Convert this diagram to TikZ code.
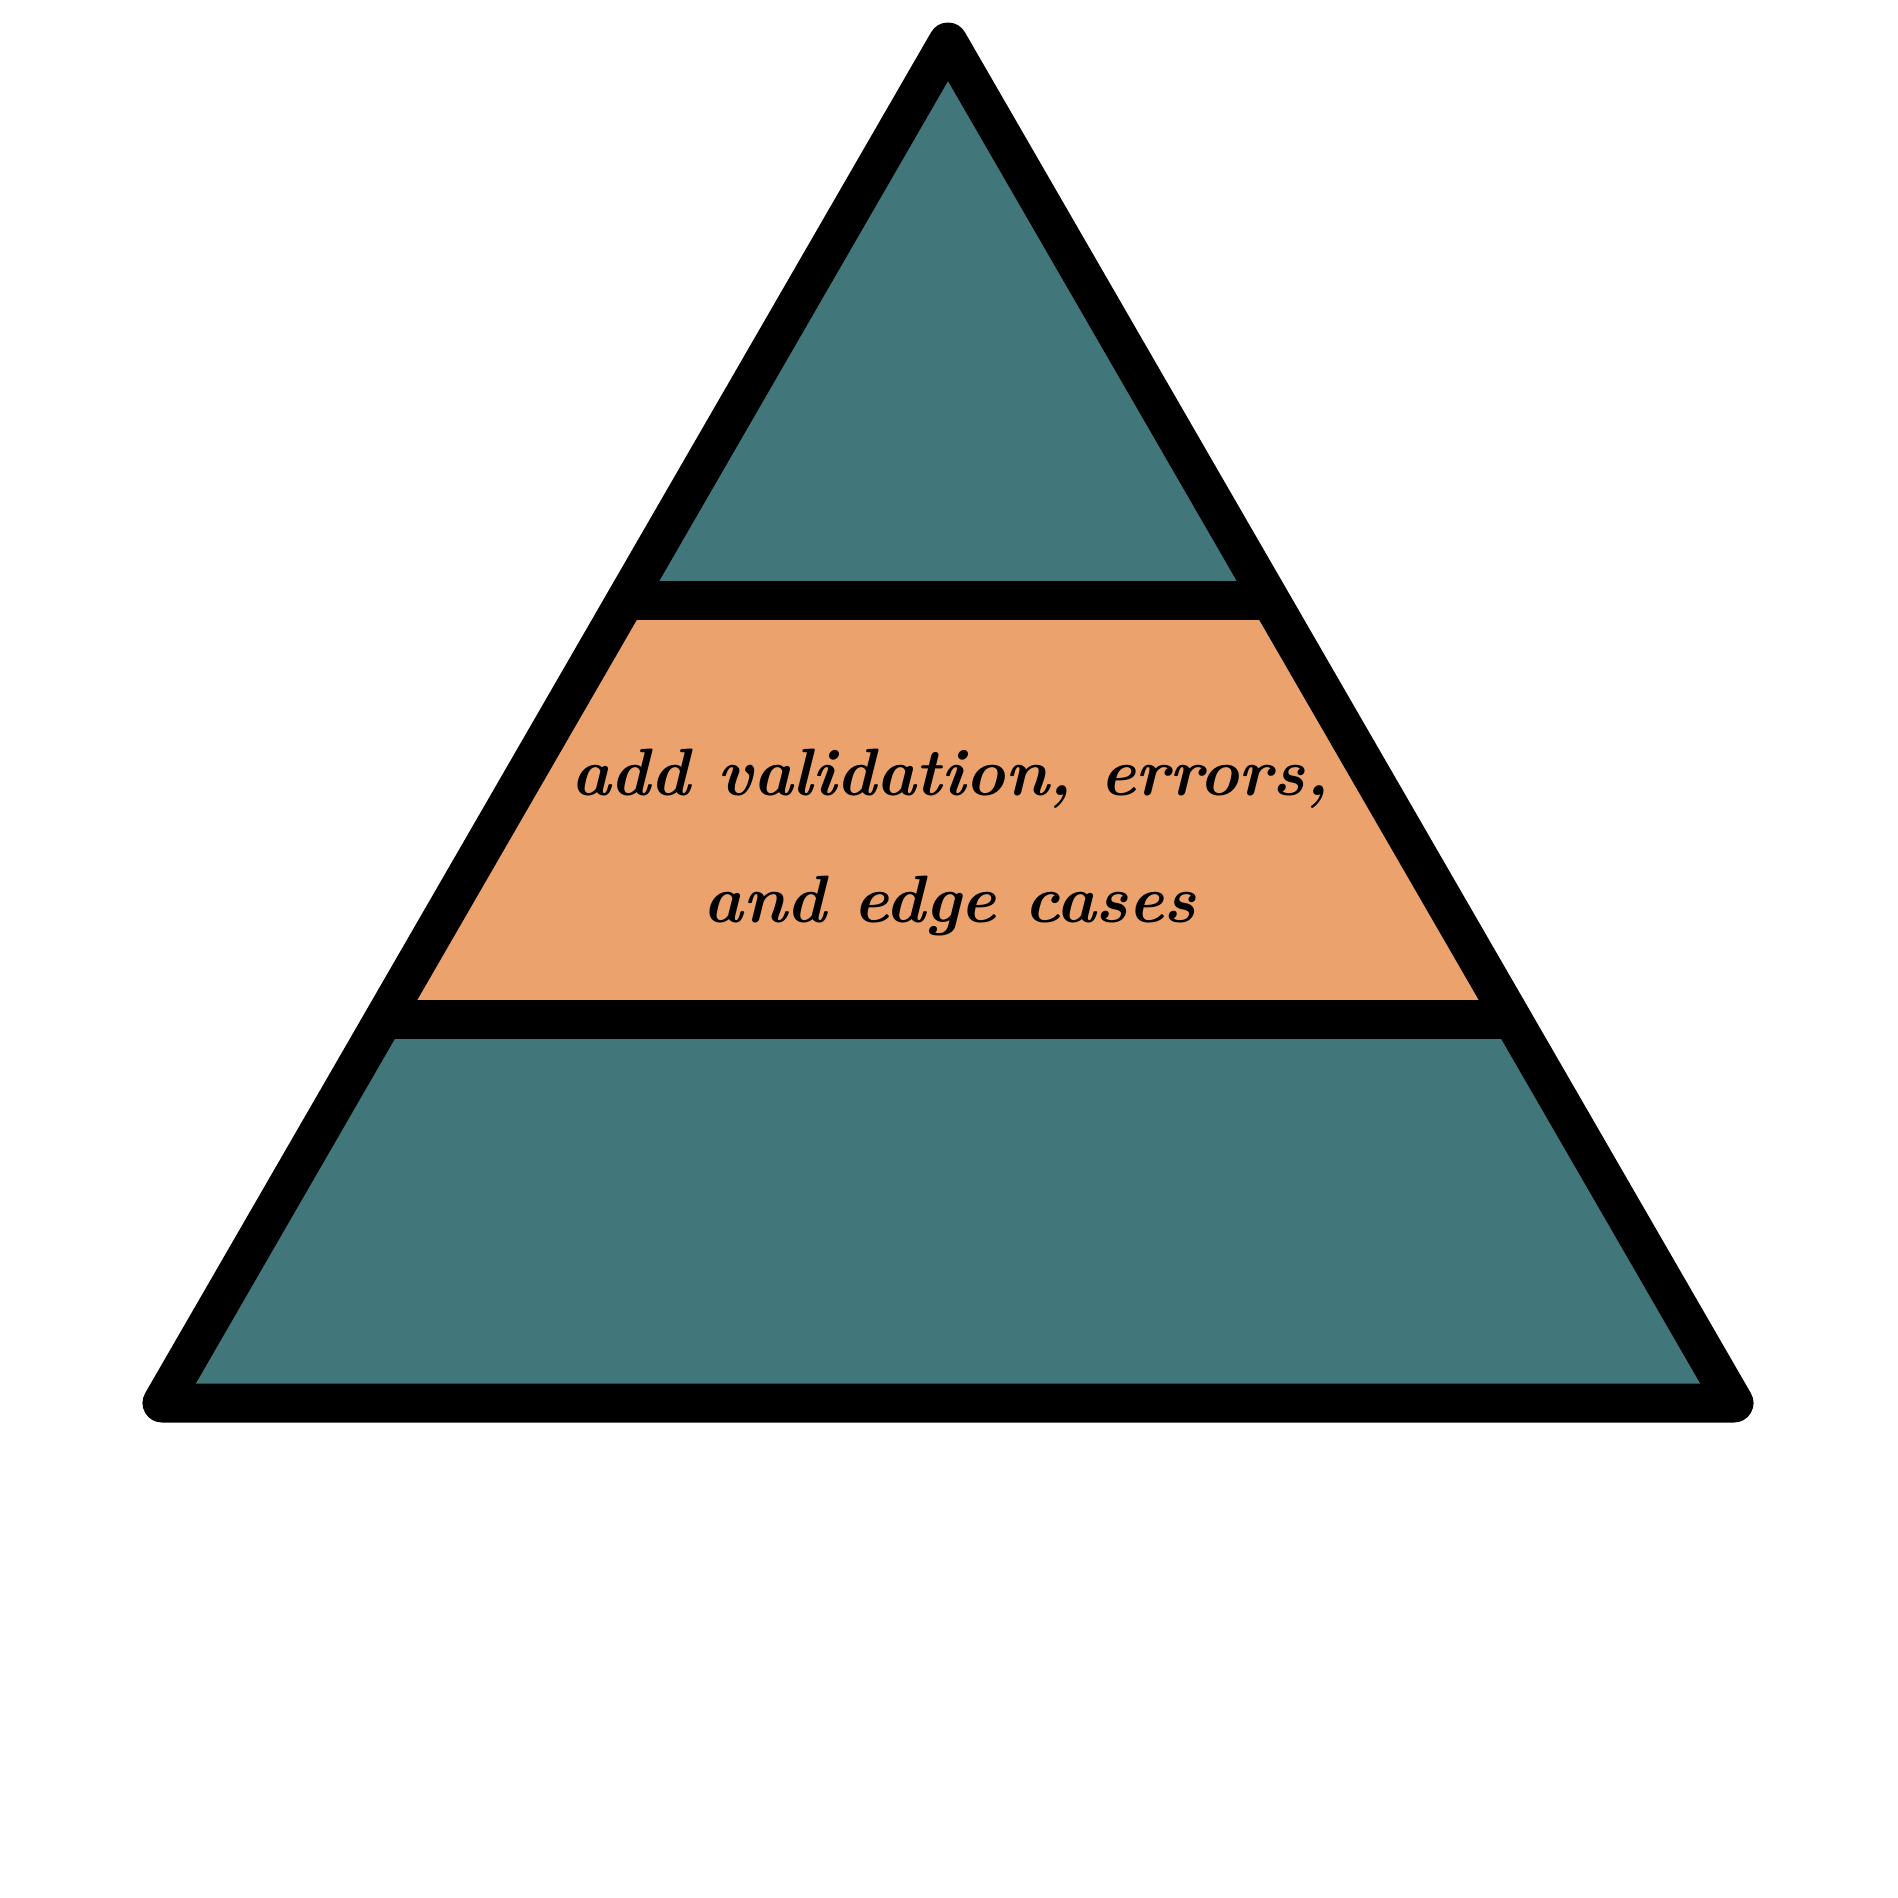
\documentclass[tikz,border=0pt]{standalone}
\usepackage{fontspec}
\definecolor{layerteal}{RGB}{65,118,122}
\definecolor{layerorange}{RGB}{235,162,109}
\tikzset{
  outline/.style={draw=black,line width=39pt,line join=round},
  divider/.style={draw=black,line width=39pt},
  label/.style={align=center,font=\fontsize{67}{127}\selectfont\bfseries\itshape,text=black,inner sep=0pt}
}
\begin{document}
\begin{tikzpicture}[x=1pt,y=-1pt]
\useasboundingbox (0,0) rectangle (1898,1898);
\coordinate (A) at (948,42);
\coordinate (BL) at (162,1403);
\coordinate (BR) at (1734,1403);
\coordinate (L1) at (625.8,600);
\coordinate (R1) at (1270.2,600);
\coordinate (L2) at (383.9,1019);
\coordinate (R2) at (1512.1,1019);
\fill[layerteal] (A) -- (R1) -- (L1) -- cycle;
\fill[layerorange] (L1) -- (R1) -- (R2) -- (L2) -- cycle;
\fill[layerteal] (L2) -- (R2) -- (BR) -- (BL) -- cycle;
\draw[divider] (L1) -- (R1);
\draw[divider] (L2) -- (R2);
\draw[outline] (A) -- (BR) -- (BL) -- cycle;
\node[label] (txt) at (950,842) {add validation, errors,\\and edge cases};
\end{tikzpicture}
\end{document}
